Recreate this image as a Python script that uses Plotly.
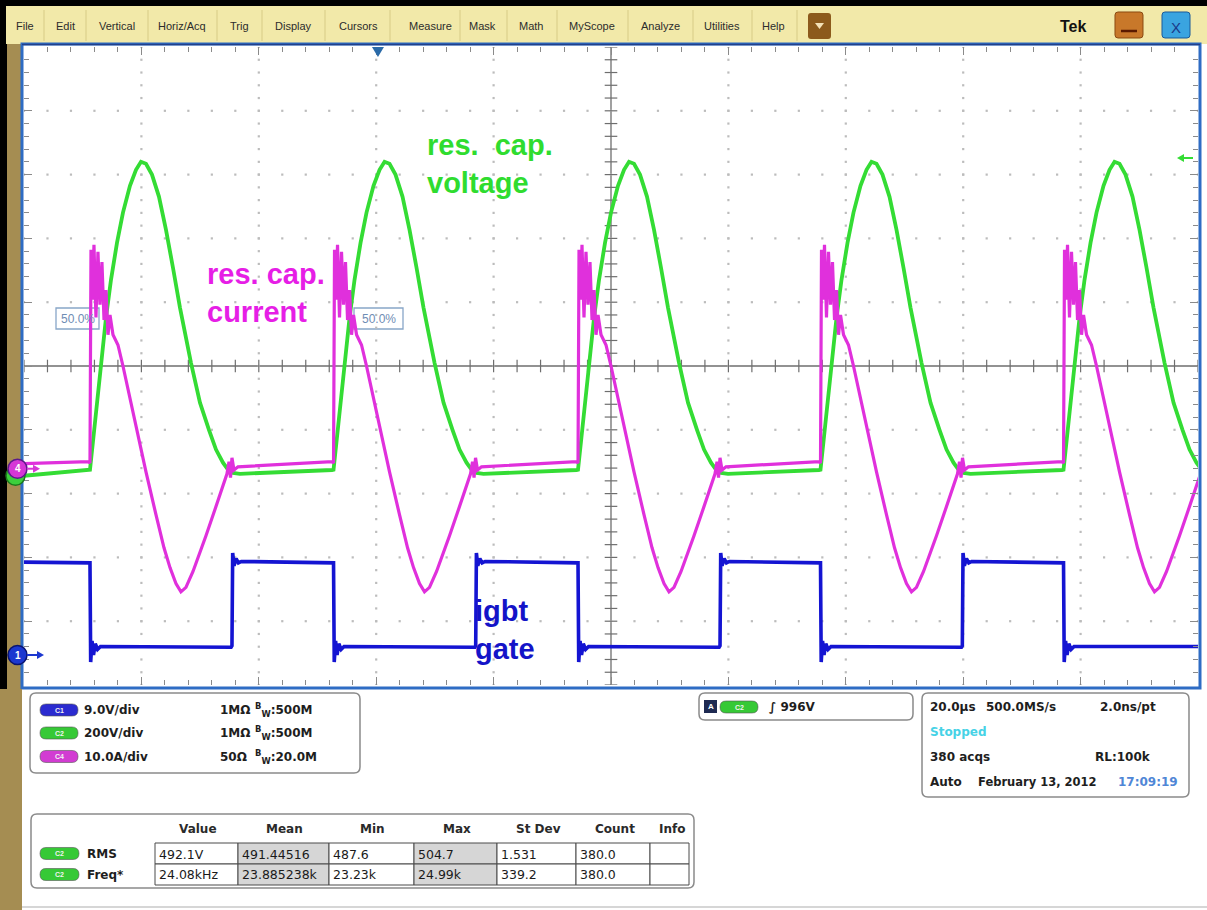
import plotly.graph_objects as go

# ---------------- screen / acquisition setup ----------------
FIG_W, FIG_H = 1207, 910
GRID_L, GRID_R, GRID_T, GRID_B = 24, 1198, 47, 685   # graticule box (px)
H_DIV, V_DIV = 10, 10
TIME_PER_DIV_US = 20.0
T_SPAN_US = H_DIV * TIME_PER_DIV_US

CH1 = dict(scale=9.0, offset=-4.53)     # igbt gate        (V/div, ground in div)
CH2 = dict(scale=200.0, offset=-1.72)   # res. cap. voltage (V/div)
CH4 = dict(scale=10.0, offset=-1.61)    # res. cap. current (A/div)
TRIG_LEVEL_V = 996.0
TRIG_POS_US = 60.3

# ---------------- waveform data ----------------
# gate turn-off instants (start of each resonant pulse) and gate turn-on instants
SWITCH_EDGES_US = [11.24, 52.73, 94.38, 135.69, 177.09]
GATE_RISE_US = [35.43, 76.95, 118.57, 159.85]

# resonant capacitor voltage during one pulse (us after turn-off, V)
VCAP_DT_US = [0.00, 0.51, 1.02, 1.87, 2.73, 3.58, 4.60, 5.62, 6.81, 7.84,
              8.69, 9.54, 10.56, 11.75, 12.95, 14.14, 15.33, 17.21, 18.74, 20.27,
              21.47, 22.66, 23.51, 24.36, 25.55]
VCAP_V = [19, 107, 198, 354, 495, 614, 730, 825, 909, 959,
          984, 978, 944, 875, 771, 652, 527, 354, 229, 144,
          82, 41, 19, 9, 6]
VCAP_IDLE_V = [0.0, 18.0]          # at screen start, just before an edge

# resonant capacitor current during one pulse (us after turn-off, A)
ICAP_DT_US = [0.00, 0.17, 0.43, 0.68, 1.02, 1.36, 1.70, 2.04, 2.39, 2.73,
              3.07, 3.41, 3.92, 4.77, 5.62, 6.81, 7.84, 9.54, 11.24, 12.61,
              13.63, 14.65, 15.50, 16.35, 17.55, 18.74, 19.76, 21.29, 22.66, 23.34,
              23.68, 23.94, 24.19, 24.53, 25.21]
ICAP_A = [0.9, 34.3, 26.5, 35.1, 23.7, 34.0, 25.7, 32.4, 23.3, 28.0,
          21.0, 24.1, 21.0, 19.4, 16.1, 11.1, 6.4, -0.5, -7.2, -12.4,
          -15.5, -18.0, -19.3, -18.6, -16.1, -13.2, -10.5, -6.4, -2.7, -0.8,
          1.1, -1.4, 1.7, -0.2, 0.3]
ICAP_IDLE_A = [0.8, 1.1]

# gate voltage around its switching edges (us relative to edge, V)
GATE_HIGH_V, GATE_LOW_V = 13.1, 1.1
GATE_FALL_DT_US = [-0.10, 0.00, 0.12, 0.35, 0.60, 0.90, 1.30, 1.80]
GATE_FALL_V = [13.1, 13.0, -1.0, 2.0, 0.0, 1.6, 0.8, 1.2]
GATE_RISE_DT_US = [-0.15, 0.00, 0.12, 0.35, 0.70, 1.10, 1.60]
GATE_RISE_V = [1.1, 1.3, 14.4, 12.6, 13.6, 13.0, 13.2]

# ---------------- readouts ----------------
CHANNEL_ROWS = [("C1", "#2b2bd0", "9.0V/div", "1MΩ", "500M"),
                ("C2", "#36c936", "200V/div", "1MΩ", "500M"),
                ("C4", "#d23cd2", "10.0A/div", "50Ω", "20.0M")]
MEAS_HEADERS = ["Value", "Mean", "Min", "Max", "St Dev", "Count", "Info"]
MEAS_ROWS = [("RMS", ["492.1V", "491.44516", "487.6", "504.7", "1.531", "380.0", ""]),
             ("Freq*", ["24.08kHz", "23.885238k", "23.23k", "24.99k", "339.2", "380.0", ""])]
MENU_ITEMS = ["File", "Edit", "Vertical", "Horiz/Acq", "Trig", "Display", "Cursors",
              "Measure", "Mask", "Math", "MyScope", "Analyze", "Utilities", "Help"]

GREEN = "#34dc34"
MAGENTA = "#e030dc"
BLUE = "#1414d2"
TAN = "#a58d52"
SANS = "Liberation Sans, Arial, sans-serif"
DJV = "DejaVu Sans, Verdana, sans-serif"


# ---------------- helpers ----------------
def fx(x):
    return (x - GRID_L) / (GRID_R - GRID_L)


def fy(y):
    return (GRID_B - y) / (GRID_B - GRID_T)


def ch_range(ch):
    return [(-V_DIV / 2 - ch["offset"]) * ch["scale"], (V_DIV / 2 - ch["offset"]) * ch["scale"]]


def pulse_train(edges, dts, vals, idle):
    t, y = [0.0], [idle[0]]
    for e in edges:
        t.append(e - 0.25)
        y.append(idle[1])
        t.extend(e + d for d in dts)
        y.extend(vals)
    return t, y


def gate_wave():
    events = [(e, GATE_FALL_DT_US, GATE_FALL_V) for e in SWITCH_EDGES_US]
    events += [(r, GATE_RISE_DT_US, GATE_RISE_V) for r in GATE_RISE_US]
    events.sort(key=lambda ev: ev[0])
    t, y = [0.0], [GATE_HIGH_V]
    for e, dts, vals in events:
        t.extend(e + d for d in dts)
        y.extend(vals)
    t.append(T_SPAN_US)
    y.append(y[-1])
    return t, y


shapes, anns = [], []


def rect(x0, y0, x1, y1, fill=None, line=None, lw=1.0, layer="above"):
    shapes.append(dict(type="rect", xref="paper", yref="paper",
                       x0=fx(x0), x1=fx(x1), y0=fy(y1), y1=fy(y0),
                       fillcolor=fill or "rgba(0,0,0,0)",
                       line=dict(color=line or "rgba(0,0,0,0)", width=lw if line else 0),
                       layer=layer))


def rpath(x0, y0, x1, y1, r):
    def P(x, y):
        return f"{fx(x):.5f},{fy(y):.5f}"
    return (f"M{P(x0 + r, y0)} L{P(x1 - r, y0)} Q{P(x1, y0)} {P(x1, y0 + r)} "
            f"L{P(x1, y1 - r)} Q{P(x1, y1)} {P(x1 - r, y1)} L{P(x0 + r, y1)} "
            f"Q{P(x0, y1)} {P(x0, y1 - r)} L{P(x0, y0 + r)} Q{P(x0, y0)} {P(x0 + r, y0)} Z")


def rbox(x0, y0, x1, y1, r, fill=None, line=None, lw=1.0):
    shapes.append(dict(type="path", xref="paper", yref="paper", path=rpath(x0, y0, x1, y1, r),
                       fillcolor=fill or "rgba(0,0,0,0)",
                       line=dict(color=line or "rgba(0,0,0,0)", width=lw if line else 0)))


def line(x0, y0, x1, y1, color, width=1.0):
    shapes.append(dict(type="line", xref="paper", yref="paper",
                       x0=fx(x0), x1=fx(x1), y0=fy(y0), y1=fy(y1),
                       line=dict(color=color, width=width)))


def poly(points, fill):
    path = "M" + " L".join(f"{fx(x):.5f},{fy(y):.5f}" for x, y in points) + " Z"
    shapes.append(dict(type="path", xref="paper", yref="paper", path=path,
                       fillcolor=fill, line=dict(width=0)))


def text(x, y, s, size=12, color="#1e1e1e", anchor="left", family=DJV, bold=False):
    anns.append(dict(xref="paper", yref="paper", x=fx(x), y=fy(y), text=f"<b>{s}</b>" if bold else s,
                     showarrow=False, xanchor=anchor, yanchor="middle", borderpad=0,
                     font=dict(size=size, color=color, family=family)))


def pill(x0, x1, yc, color, label, h=12):
    rbox(x0, yc - h / 2, x1, yc + h / 2, h / 2, fill=color, line="#555555", lw=0.6)
    text((x0 + x1) / 2, yc, label, size=7, color="#f2f2f2", anchor="center", family=SANS, bold=True)


# ---------------- traces ----------------
fig = go.Figure()

# dotted graticule
gx, gy = [], []
for k in range(1, H_DIV):
    if k == H_DIV // 2:
        continue
    for j in range(V_DIV * 5 + 1):
        gx.append(k * TIME_PER_DIV_US)
        gy.append(-V_DIV / 2 + 0.2 * j)
for j in range(-V_DIV // 2 + 1, V_DIV // 2):
    if j == 0:
        continue
    for k in range(H_DIV * 5 + 1):
        gx.append(k * TIME_PER_DIV_US / 5)
        gy.append(j)
fig.add_trace(go.Scatter(x=gx, y=gy, mode="markers", hoverinfo="skip",
                         marker=dict(symbol="square", size=2.2, color="#bcbcbc", line=dict(width=0))))

# centre cross-hair tick marks
cx_minor = [k * TIME_PER_DIV_US / 5 for k in range(H_DIV * 5 + 1)]
fig.add_trace(go.Scatter(x=cx_minor, y=[0] * len(cx_minor), mode="markers", hoverinfo="skip",
                         marker=dict(symbol="line-ns", size=9, line=dict(width=1.2, color="#6e6e6e"))))
cy_minor = [-V_DIV / 2 + 0.2 * j for j in range(V_DIV * 5 + 1)]
fig.add_trace(go.Scatter(x=[T_SPAN_US / 2] * len(cy_minor), y=cy_minor, mode="markers", hoverinfo="skip",
                         marker=dict(symbol="line-ew", size=9, line=dict(width=1.2, color="#6e6e6e"))))

# channels
t_g, v_g = gate_wave()
fig.add_trace(go.Scatter(x=t_g, y=v_g, yaxis="y4", mode="lines", hoverinfo="skip",
                         line=dict(color=BLUE, width=3.6)))
t_v, v_v = pulse_train(SWITCH_EDGES_US, VCAP_DT_US, VCAP_V, VCAP_IDLE_V)
fig.add_trace(go.Scatter(x=t_v, y=v_v, yaxis="y2", mode="lines", hoverinfo="skip",
                         line=dict(color=GREEN, width=3.8)))
t_i, v_i = pulse_train(SWITCH_EDGES_US, ICAP_DT_US, ICAP_A, ICAP_IDLE_A)
fig.add_trace(go.Scatter(x=t_i, y=v_i, yaxis="y3", mode="lines", hoverinfo="skip",
                         line=dict(color=MAGENTA, width=3.2)))

# white screen area behind graticule and readouts
rect(22, 44, FIG_W, FIG_H, fill="#ffffff", layer="below")

# centre lines
shapes.append(dict(type="line", xref="x", yref="y", x0=T_SPAN_US / 2, x1=T_SPAN_US / 2,
                   y0=-V_DIV / 2, y1=V_DIV / 2, line=dict(color="#6e6e6e", width=1.3), layer="below"))
shapes.append(dict(type="line", xref="x", yref="y", x0=0, x1=T_SPAN_US, y0=0, y1=0,
                   line=dict(color="#6e6e6e", width=1.3), layer="below"))

# ---------------- window chrome ----------------
rect(0, 0, 7, 690, fill="#000000")
rect(0, 0, FIG_W, 6, fill="#000000")
rect(6, 6, FIG_W, 44, fill="#f2e9a9")
line(22, 907, FIG_W, 907, "#c8c8c8", 1.5)

sep_x = [44, 86, 148, 217, 262, 325, 390, 460, 507, 557, 628, 693, 752, 797]
menu_cx = [25, 65, 117, 182, 239, 293, 358, 430, 482, 531, 592, 660, 722, 773]
for sx in sep_x:
    line(sx, 10, sx, 41, "#d7cb86", 1)
for name, cxp in zip(MENU_ITEMS, menu_cx):
    text(cxp, 26, name, size=11, color="#2c2c2c", anchor="center", family=SANS)

rbox(808, 13, 831, 39, 3, fill="#8c5a1c")
poly([(815, 23), (824, 23), (819.5, 29)], "#f4e2b8")
text(1073, 26, "Tek", size=16, color="#111111", anchor="center", family=SANS, bold=True)
rbox(1115, 12, 1143, 38, 3, fill="#c8782a", line="#8a4a12", lw=1)
line(1121, 31, 1137, 31, "#5a1a00", 2.5)
rbox(1162, 12, 1190, 38, 3, fill="#3aa4e0", line="#1a5a9a", lw=1)
text(1176, 27, "X", size=15, color="#1a3a8a", anchor="center", family=SANS)

# graticule frame
rect(22, 44, 1200, 688, line="#2e6cc4", lw=3)
line(22, 44.5, 1200, 44.5, "#23408a", 1.5)

# trigger position marker (top) and trigger level marker (right)
shapes.append(dict(type="path", xref="x", yref="paper", xsizemode="pixel", xanchor=TRIG_POS_US,
                   path=f"M-6,{fy(47):.5f} L6,{fy(47):.5f} L0,{fy(57):.5f} Z",
                   fillcolor="#2a6aa8", line=dict(width=0)))
shapes.append(dict(type="path", xref="paper", yref="y2", ysizemode="pixel", yanchor=TRIG_LEVEL_V,
                   path=f"M{fx(1177):.5f},0 L{fx(1184):.5f},4 L{fx(1184):.5f},-4 Z",
                   fillcolor=GREEN, line=dict(width=0)))
shapes.append(dict(type="line", xref="paper", yref="y2", x0=fx(1183), x1=fx(1193),
                   y0=TRIG_LEVEL_V, y1=TRIG_LEVEL_V, line=dict(color=GREEN, width=2)))

# ground markers at the left edge
for axis, color, edge, lab, dx in [("y2", "#3ccf3c", "#1c7a1c", "", -2),
                                   ("y3", "#d636d6", "#5a1a8a", "4", 0),
                                   ("y4", "#1c38d0", "#0a1470", "1", 0)]:
    shapes.append(dict(type="circle", xref="paper", yref=axis, ysizemode="pixel", yanchor=0,
                       x0=fx(8 + dx), x1=fx(27 + dx), y0=-9.5, y1=9.5,
                       fillcolor=color, line=dict(color=edge, width=1.5)))
    if lab:
        anns.append(dict(xref="paper", yref=axis, x=fx(17.5 + dx), y=0, text=f"<b>{lab}</b>",
                         showarrow=False, xanchor="center", yanchor="middle",
                         font=dict(size=10, color="#ffffff", family=SANS)))
for axis, color, x_end in [("y3", "#d636d6", 40), ("y4", "#1c38d0", 44)]:
    shapes.append(dict(type="line", xref="paper", yref=axis, x0=fx(27), x1=fx(x_end - 5),
                       y0=0, y1=0, line=dict(color=color, width=2)))
    shapes.append(dict(type="path", xref="paper", yref=axis, ysizemode="pixel", yanchor=0,
                       path=f"M{fx(x_end):.5f},0 L{fx(x_end - 7):.5f},4 L{fx(x_end - 7):.5f},-4 Z",
                       fillcolor=color, line=dict(width=0)))

# 50 % reference readouts
for x0, x1 in [(56, 99), (354, 403)]:
    shapes.append(dict(type="rect", xref="paper", yref="paper", x0=fx(x0), x1=fx(x1),
                       y0=fy(329), y1=fy(308), line=dict(color="#88a6c8", width=1.3),
                       fillcolor="rgba(255,255,255,0)", layer="below"))
    text((x0 + x1) / 2, 318.5, "50.0%", size=12, color="#6f8db4", anchor="center", family=SANS)

# trace labels
anns.append(dict(xref="paper", yref="paper", x=fx(425), y=fy(164),
                 text="<b>res.\u00a0 cap.<br>voltage</b>", showarrow=False, xanchor="left",
                 yanchor="middle", align="left", font=dict(size=29, color="#2fdc2f", family=SANS)))
anns.append(dict(xref="paper", yref="paper", x=fx(205), y=fy(293),
                 text="<b>res. cap.<br>current</b>", showarrow=False, xanchor="left",
                 yanchor="middle", align="left", font=dict(size=29, color="#e61ee6", family=SANS)))
anns.append(dict(xref="paper", yref="paper", x=fx(473), y=fy(630),
                 text="<b>igbt<br>gate</b>", showarrow=False, xanchor="left",
                 yanchor="middle", align="left", font=dict(size=29, color="#1414c8", family=SANS)))

# ---------------- readout panels ----------------
rbox(30, 693, 360, 773, 6, fill="#ffffff", line="#8a8a8a", lw=1.5)
for (lab, col, vdiv, imp, bw), yc in zip(CHANNEL_ROWS, [710, 733, 756.5]):
    pill(40, 78, yc, col, lab)
    text(83, yc, vdiv, size=12, bold=True)
    text(219, yc, imp, size=12, bold=True)
    text(254, yc, f"<sup>B</sup><sub>W</sub>:{bw}", size=12, bold=True)

rbox(699, 693, 913, 720, 6, fill="#ffffff", line="#8a8a8a", lw=1.5)
rect(704, 700, 717, 713, fill="#1e2a52")
text(710.5, 706.5, "A", size=8, color="#ffffff", anchor="center", family=SANS, bold=True)
pill(720, 758, 707, "#36c936", "C2")
text(768, 707, "∫ 996V", size=12, bold=True)

rbox(922, 693, 1189, 797, 6, fill="#ffffff", line="#8a8a8a", lw=1.5)
text(929, 707, "20.0µs", size=12, bold=True)
text(985, 707, "500.0MS/s", size=12, bold=True)
text(1099, 707, "2.0ns/pt", size=12, bold=True)
text(929, 732, "Stopped", size=12, color="#46d2e6", bold=True)
text(929, 757, "380 acqs", size=12, bold=True)
text(1094, 757, "RL:100k", size=12, bold=True)
text(929, 782, "Auto", size=12, bold=True)
text(977, 782, "February 13, 2012", size=11.5, bold=True)
text(1117, 782, "17:09:19", size=12, color="#4f86d6", bold=True)

rbox(31, 814, 694, 888, 6, fill="#ffffff", line="#8a8a8a", lw=1.5)
col_x = [155, 238, 329, 414, 497, 576, 650, 689]
row_y = [843, 864, 885]
head_cx = [198, 284, 372, 457, 538, 615, 672]
for h, cxp in zip(MEAS_HEADERS, head_cx):
    text(cxp, 829, h, size=12, anchor="center", bold=True, color="#2a2a2a")
for r, (name, vals) in enumerate(MEAS_ROWS):
    y0, y1 = row_y[r], row_y[r + 1]
    pill(40, 79, (y0 + y1) / 2, "#36c936", "C2")
    text(86, (y0 + y1) / 2, name, size=12, bold=True)
    for c, v in enumerate(vals):
        gray = c in (1, 3)
        rect(col_x[c], y0, col_x[c + 1], y1, fill="#d6d6d6" if gray else "#ffffff", line="#4a4a4a", lw=1)
        if v:
            text(col_x[c] + 3, (y0 + y1) / 2 + 0.5, v, size=12.5, color="#1a1a1a")

# lower part of the bezel strip on the left
rect(0, 689, 22, FIG_H, fill=TAN)

# ---------------- layout ----------------
ax_common = dict(showgrid=False, zeroline=False, showticklabels=False, fixedrange=True,
                 ticks="inside", tickcolor="#8a8a8a", tickwidth=1, mirror="ticks", showline=False)
fig.update_layout(
    width=FIG_W, height=FIG_H,
    margin=dict(l=GRID_L, r=FIG_W - GRID_R, t=GRID_T, b=FIG_H - GRID_B, pad=0),
    paper_bgcolor=TAN, plot_bgcolor="rgba(0,0,0,0)",
    showlegend=False, hovermode=False,
    xaxis=dict(range=[0, T_SPAN_US], dtick=TIME_PER_DIV_US, tick0=0, ticklen=8,
               minor=dict(dtick=TIME_PER_DIV_US / 5, ticks="inside", ticklen=5, tickcolor="#8a8a8a"),
               **ax_common),
    yaxis=dict(range=[-V_DIV / 2, V_DIV / 2], dtick=1, tick0=0, ticklen=8,
               minor=dict(dtick=0.2, ticks="inside", ticklen=5, tickcolor="#8a8a8a"),
               **ax_common),
    yaxis2=dict(overlaying="y", range=ch_range(CH2), visible=False, fixedrange=True),
    yaxis3=dict(overlaying="y", range=ch_range(CH4), visible=False, fixedrange=True),
    yaxis4=dict(overlaying="y", range=ch_range(CH1), visible=False, fixedrange=True),
    shapes=shapes, annotations=anns,
)

fig.write_html("out.html")
